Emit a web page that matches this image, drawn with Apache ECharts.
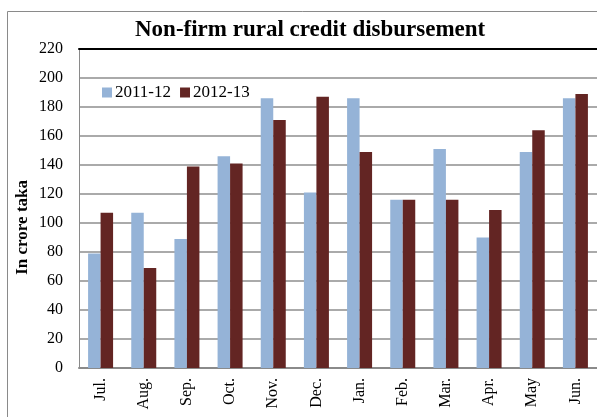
<!DOCTYPE html>
<html>
<head>
<meta charset="utf-8">
<script src="https://cdn.jsdelivr.net/npm/echarts@6/dist/echarts.min.js"></script>
<style>html,body{margin:0;padding:0;background:#fff;}#c{width:597px;height:417px;}</style>
</head>
<body>
<div id="c"></div>
<script>
const categories = ['Jul.', 'Aug.', 'Sep.', 'Oct.', 'Nov.', 'Dec.', 'Jan.', 'Feb.', 'Mar.', 'Apr.', 'May', 'Jun.'];
const series2011 = [79, 107, 89, 146, 186, 121, 186, 116, 151, 90, 149, 186];
const series2012 = [107, 69, 139, 141, 171, 187, 149, 116, 116, 109, 164, 189];
const yTicks = { min: 0, max: 220, interval: 20 };

const serif = '"Liberation Serif", "Times New Roman", serif';
const chart = echarts.init(document.getElementById('c'), null, { renderer: 'canvas' });
chart.setOption({
  animation: false,
  backgroundColor: '#fff',
  title: {
    text: 'Non-firm rural credit disbursement',
    left: 135, top: 19, padding: 0,
    textStyle: { fontFamily: serif, fontWeight: 'bold', fontSize: 23, color: '#000' }
  },
  legend: {
    left: 102, top: 84, padding: 0, itemWidth: 10, itemHeight: 10, itemGap: 9,
    icon: 'rect',
    textStyle: { fontFamily: serif, fontSize: 17, color: '#000', padding: [0, 0, 0, -2] },
    data: ['2011-12', '2012-13']
  },
  grid: { left: 79, top: 49, width: 520, height: 319, containLabel: false },
  graphic: [
    { type: 'rect', shape: { x: 7.5, y: 11.5, width: 700, height: 500 },
      style: { fill: 'none', stroke: '#8a8a8a', lineWidth: 1 }, silent: true, z: -1 },
    { type: 'text', left: 14, top: 180, rotation: Math.PI / 2,
      style: { text: 'In crore taka', font: 'bold 17px ' + serif, fill: '#000' } }
  ],
  xAxis: [{
    type: 'category', data: categories,
    axisLine: { lineStyle: { color: '#8a8a8a', width: 2 } },
    axisTick: { show: false },
    axisLabel: { rotate: 90, margin: 10, fontFamily: serif, fontSize: 16, color: '#000', interval: 0 }
  }, {
    type: 'category', data: categories, position: 'top',
    axisLine: { lineStyle: { color: '#000', width: 2 } },
    axisTick: { show: false }, axisLabel: { show: false }
  }],
  yAxis: {
    type: 'value', min: yTicks.min, max: yTicks.max, interval: yTicks.interval,
    axisLine: { show: true, lineStyle: { color: '#8a8a8a', width: 1 } },
    axisTick: { show: false },
    splitLine: { lineStyle: { color: '#8e8e8e', width: 1.5 } },
    axisLabel: { margin: 16, fontFamily: serif, fontSize: 16, color: '#000' }
  },
  series: [
    { name: '2011-12', type: 'bar', data: series2011, barWidth: 12.5, barGap: '0%',
      itemStyle: { color: '#95B3D7' } },
    { name: '2012-13', type: 'bar', data: series2012, barWidth: 12.5, barGap: '0%',
      itemStyle: { color: '#632523' } }
  ]
});
</script>
</body>
</html>
